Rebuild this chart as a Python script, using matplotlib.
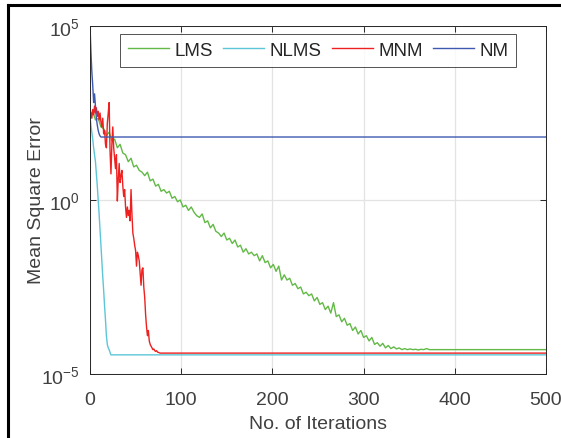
import matplotlib
matplotlib.use("Agg")
import matplotlib.pyplot as plt
from matplotlib.lines import Line2D
import numpy as np

plt.rcParams['font.family'] = ['Liberation Sans', 'DejaVu Sans']
plt.rcParams['mathtext.fontset'] = 'custom'
plt.rcParams['mathtext.rm'] = 'Liberation Sans'
plt.rcParams['mathtext.default'] = 'regular'

# LMS, sampled every 3 iterations up to 372, then flat to 500 (log10 of MSE)
lms_iter = list(range(0, 373, 3)) + [500]
lms_log = [2.45, 2.55, 2.3, 2.35, 2.1, 2.05, 1.85, 1.95, 1.7, 1.75,
           1.5, 1.6, 1.35, 1.3, 1.1, 1.2, 0.95, 1.0, 0.85, 0.8,
           0.7, 0.8, 0.55, 0.6, 0.4, 0.45, 0.25, 0.3, 0.2, 0.25,
           0.05, 0.1, -0.05, 0.0, -0.2, -0.15, -0.3, -0.2, -0.35, -0.45,
           -0.5, -0.4, -0.65, -0.6, -0.8, -0.7, -0.9, -0.95, -1.05, -0.95,
           -1.15, -1.1, -1.25, -1.15, -1.35, -1.3, -1.5, -1.4, -1.55, -1.5,
           -1.6, -1.55, -1.75, -1.6, -1.8, -1.75, -1.95, -1.85, -2.05, -1.9,
           -2.3, -2.15, -2.3, -2.25, -2.45, -2.4, -2.55, -2.5, -2.7, -2.65,
           -2.75, -2.7, -2.9, -2.8, -3.0, -2.95, -3.15, -3.05, -3.25, -2.95,
           -3.35, -3.3, -3.5, -3.4, -3.6, -3.55, -3.75, -3.65, -3.85, -3.75,
           -3.95, -3.9, -4.05, -3.95, -4.15, -4.1, -4.2, -4.12, -4.25, -4.18,
           -4.27, -4.22, -4.28, -4.25, -4.3, -4.27, -4.3, -4.28, -4.3, -4.29,
           -4.31, -4.29, -4.3, -4.27, -4.3, -4.3]

# NLMS
nlms_iter = list(range(0, 24)) + [500]
nlms_log = [2.4, 2.15, 1.95, 1.75, 1.5, 1.3, 1.1, 0.75, 0.4, 0.0,
            -0.4, -0.85, -1.3, -1.75, -2.2, -2.6, -3.05, -3.45, -3.9, -4.15,
            -4.25, -4.3, -4.38, -4.45, -4.45]

# MNM
mnm_iter = list(range(0, 78)) + [500]
mnm_log = [2.4, 2.5, 2.35, 2.6, 2.45, 2.7, 2.5, 2.65, 2.4, 2.55,
           2.3, 2.5, 2.25, 2.1, 2.35, 1.9, 2.0, 1.6, 1.5, 2.2,
           2.5, 2.8, 1.4, 0.75, 1.6, 2.1, 1.5, 1.2, 0.9, 1.3,
           -0.03, 0.6, 1.05, 0.5, 0.7, 0.85, 0.4, 0.1, 0.3, -0.2,
           -0.5, -0.2, -0.45, -0.3, -0.6, 0.3, -0.4, -0.95, -1.1, -1.3,
           -1.45, -1.9, -1.5, -1.6, -1.75, -2.1, -2.45, -2.0, -1.95, -2.5,
           -2.8, -3.3, -3.65, -3.9, -3.75, -4.05, -4.15, -4.2, -4.25, -4.3,
           -4.28, -4.33, -4.35, -4.33, -4.37, -4.38, -4.39, -4.4, -4.4]

# NM
nm_iter = list(range(0, 13)) + [500]
nm_log = [5.0, 4.3, 3.7, 3.3, 2.8, 3.05, 2.7, 2.35, 2.15, 2.0,
          1.9, 1.84, 1.81, 1.81]

series = [
    ("LMS", lms_iter, lms_log, "#62b946"),
    ("NLMS", nlms_iter, nlms_log, "#5cc6d8"),
    ("MNM", mnm_iter, mnm_log, "#ee2020"),
    ("NM", nm_iter, nm_log, "#3d59b0"),
]

fig = plt.figure(figsize=(5.61, 4.39), dpi=100)
ax = fig.add_axes([0.1604, 0.1458, 0.8129, 0.7927])

for name, xs, ys, col in series:
    ax.plot(xs, 10.0 ** np.array(ys), color=col, lw=1.0, label=name)

ax.set_yscale('log')
ax.set_xlim(0, 500)
ax.set_ylim(1e-5, 1e5)
ax.set_yticks([1e-5, 1e0, 1e5])
ax.set_yticklabels([r'$10^{-5}$', r'$10^{0}$', r'$10^{5}$'])
ax.minorticks_off()
ax.set_xticks([0, 100, 200, 300, 400, 500])

ax.grid(True, color='#e3e3e3', lw=0.9)
ax.set_axisbelow(True)
ax.tick_params(direction='in', length=4, width=0.7, top=True, right=True,
               labelsize=14, colors='#262626', labelcolor='#404040')
ax.tick_params(axis='x', pad=12)
ax.tick_params(axis='y', pad=7)
for s in ax.spines.values():
    s.set_color('#262626')
    s.set_linewidth(0.7)

ax.set_xlabel('No. of Iterations', fontsize=14, color='#404040')
ax.set_ylabel('Mean Square Error', fontsize=14, color='#404040')
ax.xaxis.set_label_coords(0.5, -0.118)
ax.yaxis.set_label_coords(-0.098, 0.5)

leg = ax.legend(loc='upper center', bbox_to_anchor=(0.5, 0.977), ncol=4,
                fontsize=13.5, frameon=True, fancybox=False, handlelength=2.2,
                handletextpad=0.28, columnspacing=0.55, borderpad=0.42,
                borderaxespad=0)
leg.get_frame().set_edgecolor('#262626')
leg.get_frame().set_linewidth(0.7)
for t in leg.get_texts():
    t.set_color('#262626')

# black frame of the screenshot
fig.add_artist(Line2D([0.0143, 1.0], [0.9863, 0.9863], color='black', lw=2.2))
fig.add_artist(Line2D([0.0143, 0.0143], [0.0, 0.9863], color='black', lw=2.2))

fig.savefig('out.png', dpi=100)
